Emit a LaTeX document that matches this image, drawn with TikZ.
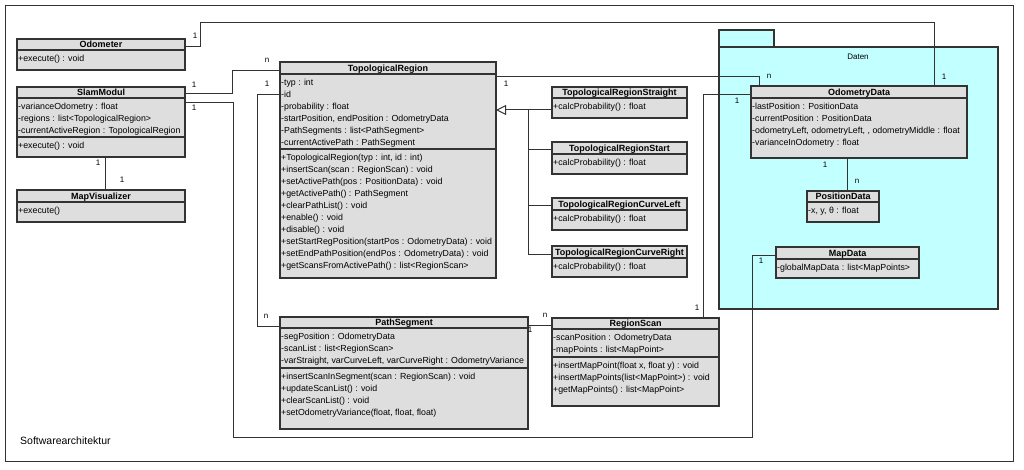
\documentclass[tikz,border=0pt]{standalone}
\usepackage{fontspec}
\setmainfont{Liberation Sans}
\usetikzlibrary{arrows.meta}
\definecolor{boxgray}{HTML}{DEDEDE}
\definecolor{pkgcyan}{HTML}{C2FFFF}
\definecolor{linecol}{HTML}{333333}
\tikzset{
 x=1pt,y=-1pt,
 clsbox/.style={draw=linecol, fill=boxgray, line width=1.1pt, inner sep=0, outer sep=0, anchor=north west},
 pkgbox/.style={draw=linecol, fill=pkgcyan, line width=1.1pt, inner sep=0, outer sep=0, anchor=north west},
 conn/.style={draw=linecol, line width=1pt},
 mult/.style={font=\fontsize{8}{10}\selectfont, inner sep=0},
 ttl/.style={font=\bfseries\fontsize{9}{12}\selectfont, inner sep=0, anchor=base},
 compart/.style={font=\fontsize{8.8}{12}\selectfont, inner sep=0, anchor=north west},
}
\newcommand\umlclass[7]{% #1 name #2 x1 #3 y1 #4 x2 #5 y2 #6 header bottom #7 title
  \node[clsbox, minimum width={#4-#2}, minimum height={#5-#3}] (#1) at (#2,#3) {};
  \draw[line width=1.1pt, linecol] (#2,#6) -- (#4,#6);
  \node[ttl] (#1-t) at ({(#2+#4)/2},{#6-2.6}) {#7};
}
\newcommand\umlsep[3]{\draw[line width=1.1pt, linecol] (#1,#3) -- (#2,#3);}
\newcommand\umltext[4]{% name x y(divider) lines
  \node[compart] (#1) at ({#2+1},{#3+2.8}) {\begin{tabular}{@{}l@{}}#4\end{tabular}};
}
\begin{document}
\begin{tikzpicture}
\useasboundingbox (0,0) rectangle (1024,470);
\fill[white] (0,0) rectangle (1024,470);
% outer frame
\node[draw=linecol, line width=1pt, inner sep=0, anchor=north west, minimum width=1008, minimum height=456] (frame) at (5,5) {};
\node[font=\fontsize{10.5}{12}\selectfont, anchor=base west, inner sep=0] (fname) at (20,444) {Softwarearchitektur};

% package
\node[pkgbox, minimum width=55, minimum height=17] (tab) at (719,30) {};
\node[pkgbox, minimum width=279, minimum height=262] (daten) at (719,47) {};
\node[font=\fontsize{8}{10}\selectfont, anchor=base, inner sep=0] (datenl) at (858,60) {Daten};

% classes
\umlclass{odometer}{17}{39}{185}{70}{50}{Odometer}
\umltext{odometer-m}{17}{50}{+execute() : void}

\umlclass{slam}{17}{87}{185}{157}{98}{SlamModul}
\umltext{slam-a}{17}{98}{-varianceOdometry : float\\-regions : list<TopologicalRegion>\\-currentActiveRegion : TopologicalRegion}
\umlsep{17}{185}{137}
\umltext{slam-m}{17}{137}{+execute() : void}

\umlclass{mapvis}{17}{190}{185}{222}{202}{MapVisualizer}
\umltext{mapvis-m}{17}{202}{+execute()}

\umlclass{tr}{280}{62}{496}{278}{74}{TopologicalRegion}
\umltext{tr-a}{280}{74}{-typ : int\\-id\\-probability : float\\-startPosition, endPosition : OdometryData\\-PathSegments : list<PathSegment>\\-currentActivePath : PathSegment}
\umlsep{280}{496}{149}
\umltext{tr-m}{280}{149}{+TopologicalRegion(typ : int, id : int)\\+insertScan(scan : RegionScan) : void\\+setActivePath(pos : PositionData) : void\\+getActivePath() : PathSegment\\+clearPathList() : void\\+enable() : void\\+disable() : void\\+setStartRegPosition(startPos : OdometryData) : void\\+setEndPathPosition(endPos : OdometryData) : void\\+getScansFromActivePath() : list<RegionScan>}

\umlclass{trs}{552}{87}{687}{118}{98}{TopologicalRegionStraight}
\umltext{trs-m}{552}{98}{+calcProbability() : float}
\umlclass{trst}{552}{142}{687}{174}{154}{TopologicalRegionStart}
\umltext{trst-m}{552}{154}{+calcProbability() : float}
\umlclass{trcl}{552}{198}{687}{230}{210}{TopologicalRegionCurveLeft}
\umltext{trcl-m}{552}{210}{+calcProbability() : float}
\umlclass{trcr}{552}{246}{687}{277}{258}{TopologicalRegionCurveRight}
\umltext{trcr-m}{552}{258}{+calcProbability() : float}

\umlclass{odata}{751}{86}{967}{158}{98}{OdometryData}
\umltext{odata-a}{751}{98}{-lastPosition : PositionData\\-currentPosition : PositionData\\-odometryLeft, odometryLeft, , odometryMiddle : float\\-varianceInOdometry : float}

\umlclass{pdata}{807}{191}{879}{222}{202}{PositionData}
\umltext{pdata-a}{807}{202}{-x, y, θ : float}

\umlclass{mdata}{776}{247}{919}{278}{259}{MapData}
\umltext{mdata-a}{776}{259}{-globalMapData : list<MapPoints>}

\umlclass{pseg}{280}{317}{528}{429}{328}{PathSegment}
\umltext{pseg-a}{280}{328}{-segPosition : OdometryData\\-scanList : list<RegionScan>\\-varStraight, varCurveLeft, varCurveRight : OdometryVariance}
\umlsep{280}{528}{368}
\umltext{pseg-m}{280}{368}{+insertScanInSegment(scan : RegionScan) : void\\+updateScanList() : void\\+clearScanList() : void\\+setOdometryVariance(float, float, float)}

\umlclass{rscan}{552}{318}{719}{406}{329}{RegionScan}
\umltext{rscan-a}{552}{329}{-scanPosition : OdometryData\\-mapPoints : list<MapPoint>}
\umlsep{552}{719}{357}
\umltext{rscan-m}{552}{357}{+insertMapPoint(float x, float y) : void\\+insertMapPoints(list<MapPoint>) : void\\+getMapPoints() : list<MapPoint>}

% connectors
\draw[conn] (odometer.east |- 0,47) -| (200,23) -| (odata.north -| 934,0);
\draw[conn] (slam.east |- 0,94) -| (232,71) -- (tr.west |- 0,71);
\draw[conn] (slam.east |- 0,103) -| (233,437) -| (752,255) -- (mdata.west |- 0,255);
\draw[conn] (mapvis.north -| 105,0) -- (slam.south -| 105,0);
\draw[conn] (tr.west |- 0,95) -| (257,326) -- (pseg.west |- 0,326);
\draw[conn] (tr.east |- 0,77) -| (odata.north -| 759,0);
\draw[conn] (odata.west |- 0,95) -| (rscan.north -| 703,0);
\draw[conn] (odata.south -| 847,0) -- (pdata.north -| 847,0);
\draw[conn] (pseg.east |- 0,325) -- (rscan.west |- 0,325);
% generalization
\coordinate (gen) at (528,110);
\draw[conn, -{Triangle[open, length=10pt, width=10pt, line width=1pt]}] (trs.west |- 0,110) -- (tr.east |- 0,110);
\draw[conn] (gen) |- (trcr.west |- 0,254);
\draw[conn] (gen |- 0,150) -- (trst.west |- 0,150);
\draw[conn] (gen |- 0,206) -- (trcl.west |- 0,206);

% multiplicities
\node[mult] (m1) at (195,36) {1};
\node[mult] (m2) at (944,77) {1};
\node[mult] (m3) at (194,85) {1};
\node[mult] (m4) at (267,60) {n};
\node[mult] (m5) at (194,108) {1};
\node[mult] (m6) at (761,261) {1};
\node[mult] (m7) at (98,163) {1};
\node[mult] (m8) at (122,180) {1};
\node[mult] (m9) at (267,84) {1};
\node[mult] (m10) at (266,316) {n};
\node[mult] (m11) at (506,84) {1};
\node[mult] (m12) at (769,76) {n};
\node[mult] (m13) at (737,101) {1};
\node[mult] (m14) at (697,308) {1};
\node[mult] (m15) at (825,165) {1};
\node[mult] (m16) at (857,181) {n};
\node[mult] (m17) at (545,315) {n};
\node[mult] (m18) at (530,330) {1};
\end{tikzpicture}
\end{document}
